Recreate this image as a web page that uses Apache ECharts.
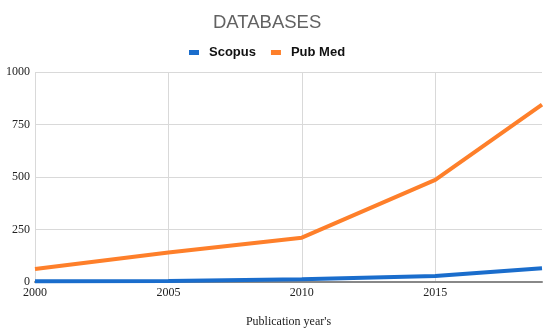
<!DOCTYPE html>
<html>
<head>
<meta charset="utf-8">
<script src="https://cdn.jsdelivr.net/npm/echarts@6/dist/echarts.min.js"></script>
<style>html,body{margin:0;padding:0;background:#fff}#c{width:550px;height:335px}</style>
</head>
<body>
<div id="c"></div>
<script>
var years = [2000, 2005, 2010, 2015, 2019];
var scopus = [3, 5, 13, 29, 65];
var pubmed = [62, 140, 211, 486, 845];
var yTicks = [0, 250, 500, 750, 1000];
var xTicks = [2000, 2005, 2010, 2015];

function pairs(xs, ys) { return xs.map(function (x, i) { return [x, ys[i]]; }); }
var SERIF = '"Liberation Serif", "Times New Roman", serif';
var SANS = '"Liberation Sans", Arial, sans-serif';
function plain(v) { return String(v); }

var chart = echarts.init(document.getElementById('c'), null, { renderer: 'canvas' });
chart.setOption({
  animation: false,
  backgroundColor: '#fff',
  title: {
    text: 'DATABASES', left: 208, top: 8,
    textStyle: { fontFamily: SANS, fontSize: 18.5, fontWeight: 'normal', color: '#626262' }
  },
  legend: {
    top: 41, left: 184, itemWidth: 10, itemHeight: 5, itemGap: 15, icon: 'rect',
    textStyle: { fontFamily: SANS, fontSize: 13, fontWeight: 'bold', color: '#111', padding: [0, 0, 0, 5] },
    data: ['Scopus', 'Pub Med']
  },
  grid: { left: 35, right: 8, top: 72, bottom: 53, containLabel: false },
  xAxis: {
    type: 'value', min: xTicks[0], max: years[years.length - 1], interval: 5,
    name: "Publication year's", nameLocation: 'middle', nameGap: 34,
    nameTextStyle: { fontFamily: SERIF, fontSize: 12, color: '#222' },
    axisLine: { show: true, lineStyle: { color: '#888', width: 2 } },
    axisTick: { show: false },
    axisLabel: { showMaxLabel: false, margin: 5, formatter: plain, fontFamily: SERIF, fontSize: 12, color: '#222' },
    splitLine: { show: true, showMaxLine: false, lineStyle: { color: '#d9d9d9', width: 1 } }
  },
  yAxis: {
    type: 'value', min: yTicks[0], max: yTicks[yTicks.length - 1], interval: 250,
    axisLine: { show: false }, axisTick: { show: false },
    axisLabel: { margin: 5, formatter: plain, fontFamily: SERIF, fontSize: 12, color: '#222' },
    splitLine: { show: true, lineStyle: { color: '#d9d9d9', width: 1 } }
  },
  series: [
    { name: 'Scopus', type: 'line', data: pairs(years, scopus), showSymbol: false, symbol: 'none',
      itemStyle: { color: '#1a6dcc' }, lineStyle: { color: '#1a6dcc', width: 4 }, z: 3 },
    { name: 'Pub Med', type: 'line', data: pairs(years, pubmed), showSymbol: false, symbol: 'none',
      itemStyle: { color: '#fe7f2a' }, lineStyle: { color: '#fe7f2a', width: 4 }, z: 2 }
  ]
});
</script>
</body>
</html>
